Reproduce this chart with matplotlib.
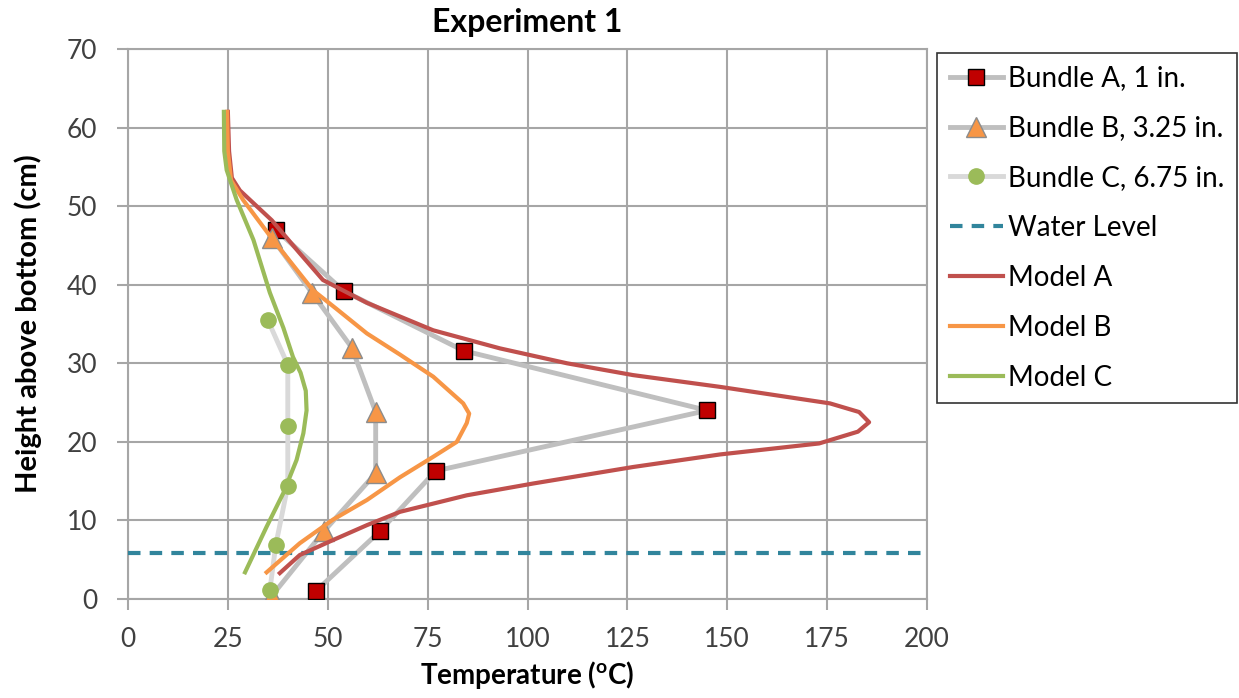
import numpy as np
import matplotlib
matplotlib.use("Agg")
import matplotlib.pyplot as plt

plt.rcParams['font.family'] = ['Lato', 'DejaVu Sans']
plt.rcParams['mathtext.default'] = 'regular'

# misure dei tre fasci (temperatura in C, altezza in cm)
bundle_a_t = [47, 63, 77, 145, 84, 54, 37]
bundle_a_h = [1.0, 8.6, 16.3, 24.0, 31.6, 39.2, 47.0]

bundle_b_t = [36, 49, 62, 62, 56, 46, 36]
bundle_b_h = [0.4, 8.6, 16.0, 23.8, 32.0, 39.0, 46.0]

bundle_c_t = [35.5, 37, 40, 40, 40, 35]
bundle_c_h = [1.1, 6.9, 14.4, 22.0, 29.8, 35.5]

water_level = 5.85

# curve dei modelli
model_a_t = [38, 43, 51.3, 59.8, 68.1, 84.8, 101.4, 126.4, 148.2, 173, 182.7,
             185.5, 183, 175.7, 148.2, 126.4, 109.9, 93.1, 76.4, 59.8, 48.8,
             43, 36, 28, 26, 25.3, 25]
model_a_h = [3.3, 5.6, 7.5, 9.4, 11.1, 13.2, 14.7, 16.8, 18.4, 19.8, 21.3,
             22.5, 23.8, 24.9, 27.0, 28.5, 30.0, 31.9, 34.2, 37.7, 40.6,
             44.0, 48.2, 52.0, 53.6, 57, 62]

model_b_t = [34.7, 43, 51.3, 59.8, 68.1, 76.4, 82.3, 84.8, 85.4, 83.9, 76.4,
             68.1, 59.8, 52, 46.3, 36.3, 28.8, 25.8, 25, 24.8]
model_b_h = [3.4, 7.1, 10.1, 12.6, 15.5, 18.1, 20.0, 22.4, 23.6, 24.9, 28.3,
             31.1, 33.8, 37.0, 39.3, 45.7, 50.8, 53.3, 57, 62]

model_c_t = [29.3, 34.7, 38.9, 42.2, 43.9, 44.7, 44.5, 43.2, 41.3, 38.9, 35.5,
             31.4, 27.2, 24.7, 24.1, 24]
model_c_h = [3.4, 9.2, 13.5, 17.7, 21.1, 24.0, 26.5, 28.8, 30.8, 34.5, 39.0,
             45.7, 50.8, 54.6, 57, 62]

fig = plt.figure(figsize=(12.39, 6.98), dpi=100)
ax = fig.add_axes([0.1033, 0.1418, 0.6449, 0.7880])

ax.plot(bundle_a_t, bundle_a_h, color='#BFBFBF', lw=3.5, marker='s', ms=12,
        mfc='#C00000', mec='black', mew=1, label='Bundle A, 1 in.', zorder=3)
ax.plot(bundle_b_t, bundle_b_h, color='#BFBFBF', lw=3.5, marker='^', ms=14,
        mfc='#F79646', mec='#8C8C8C', mew=1, label='Bundle B, 3.25 in.', zorder=3)
ax.plot(bundle_c_t, bundle_c_h, color='#D9D9D9', lw=3.5, marker='o', ms=11,
        mfc='#9BBB59', mec='#9BBB59', label='Bundle C, 6.75 in.', zorder=3)
ax.axhline(water_level, color='#31859C', lw=3, ls=(0, (3, 2.2)), label='Water Level', zorder=3)
ax.plot(model_a_t, model_a_h, color='#C0504D', lw=3, label='Model A', zorder=4)
ax.plot(model_b_t, model_b_h, color='#F79646', lw=3, label='Model B', zorder=4)
ax.plot(model_c_t, model_c_h, color='#9BBB59', lw=3, label='Model C', zorder=4)

ax.set_xlim(0, 200)
ax.set_ylim(0, 70)
ax.set_xticks(np.arange(0, 201, 25))
ax.set_yticks(np.arange(0, 71, 10))
ax.grid(True, color='#A6A6A6', lw=1.5)
ax.set_axisbelow(True)
for s in ax.spines.values():
    s.set_color('#A6A6A6')
    s.set_linewidth(1.5)
ax.tick_params(axis='both', colors='#A6A6A6', length=8, width=1.5, labelsize=19,
               labelcolor='#404040')
ax.tick_params(axis='x', pad=12)
ax.tick_params(axis='y', pad=14)

ax.set_title('Experiment 1', fontsize=23, fontweight='bold', pad=12)
ax.set_xlabel('Temperature ($^{o}$C)', fontsize=20, fontweight='bold', labelpad=5)
ax.set_ylabel('Height above bottom (cm)', fontsize=21, fontweight='bold', labelpad=18)

leg = ax.legend(loc='upper left', bbox_to_anchor=(1.013, 0.993), fontsize=20,
                frameon=True, fancybox=False, edgecolor='black', labelspacing=0.86,
                handlelength=1.9, handletextpad=0.2, borderpad=0.45, borderaxespad=0)
leg.get_frame().set_linewidth(1.2)

fig.savefig('out.png', dpi=100)
